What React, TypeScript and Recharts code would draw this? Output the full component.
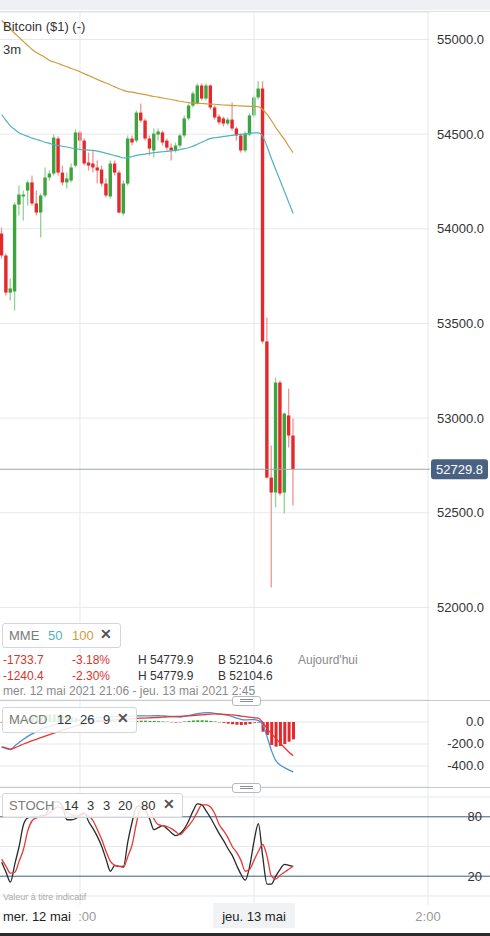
import React from 'react';
import { ComposedChart, Bar, Line, XAxis, YAxis, CartesianGrid, ReferenceLine, Cell } from 'recharts';

const FONT = '"Liberation Sans", Arial, Helvetica, sans-serif';

// 3-minute candles, mer. 12 mai 21:06 -> jeu. 13 mai 0:27
const times = [
  '21:06','21:09','21:12','21:15','21:18','21:21','21:24','21:27','21:30','21:33',
  '21:36','21:39','21:42','21:45','21:48','21:51','21:54','21:57','22:00','22:03',
  '22:06','22:09','22:12','22:15','22:18','22:21','22:24','22:27','22:30','22:33',
  '22:36','22:39','22:42','22:45','22:48','22:51','22:54','22:57','23:00','23:03',
  '23:06','23:09','23:12','23:15','23:18','23:21','23:24','23:27','23:30','23:33',
  '23:36','23:39','23:42','23:45','23:48','23:51','23:54','23:57','0:00','0:03',
  '0:06','0:09','0:12','0:15','0:18','0:21','0:24','0:27',
];

const opens = [
  53975,53859,53663,53669,54128,54171,54202,54245,54134,54086,
  54176,54271,54292,54477,54297,54245,54255,54334,54509,54466,
  54350,54345,54324,54313,54239,54171,54345,54297,54081,54239,
  54477,54466,54614,54572,54477,54414,54498,54509,54466,54429,
  54414,54440,54493,54583,54651,54662,54757,54688,54757,54641,
  54593,54583,54556,54577,54530,54493,54414,54498,54599,54694,
  54741,53405,52686,52607,53188,52607,53014,52908,
];
const closes = [
  53859,53663,53685,54128,54181,54181,54245,54134,54086,54176,
  54271,54292,54482,54297,54245,54266,54324,54509,54466,54345,
  54334,54324,54308,54239,54176,54345,54297,54086,54239,54477,
  54456,54614,54572,54477,54424,54503,54514,54456,54429,54414,
  54440,54493,54583,54651,54715,54757,54688,54757,54641,54588,
  54562,54556,54577,54530,54493,54414,54503,54599,54694,54741,
  53405,52686,52607,53188,52602,53024,52908,52729.8,
];
const highs = [
  54007,53870,53737,54139,54229,54202,54255,54282,54202,54186,
  54324,54308,54498,54488,54334,54297,54345,54525,54519,54477,
  54403,54414,54361,54334,54266,54361,54361,54308,54255,54493,
  54493,54625,54662,54583,54493,54530,54530,54519,54477,54451,
  54456,54503,54599,54662,54725,54768,54768,54768,54762,54651,
  54604,54593,54588,54667,54540,54503,54514,54609,54704,54779.9,
  54779.9,53531,52855,53214,53199,53030,53156,52998,
];
const lows = [
  53843,53648,53621,53568,54070,54044,54123,54123,54070,53954,
  54165,54255,54282,54282,54229,54213,54245,54324,54414,54334,
  54308,54297,54239,54223,54165,54160,54282,54081,54070,54229,
  54440,54456,54562,54466,54387,54377,54466,54440,54414,54361,
  54403,54429,54482,54572,54641,54657,54678,54678,54630,54577,
  54551,54540,54546,54519,54466,54403,54403,54488,54588,54683,
  53394,52681,52104.6,52528,52591,52496,52845,52538,
];
const mme50 = [
  54604,54572,54544,54525,54507,54497,54488,54479,54472,54465,
  54457,54451,54444,54440,54436,54432,54427,54423,54419,54417,
  54416,54414,54410,54405,54399,54393,54387,54381,54374,54376,
  54382,54388,54392,54395,54399,54402,54405,54407,54409,54412,
  54414,54419,54424,54428,54437,54447,54457,54468,54478,54481,
  54484,54488,54491,54494,54497,54499,54501,54504,54507,54507,
  54489,54435,54371,54313,54255,54197,54139,54081,
];
const mme100 = [
  55100,55079,55055,55032,55011,54989,54968,54947,54931,54918,
  54905,54889,54881,54873,54864,54856,54847,54839,54830,54819,
  54810,54799,54789,54779,54770,54760,54750,54740,54731,54725,
  54722,54717,54713,54709,54704,54699,54696,54691,54687,54683,
  54678,54674,54670,54667,54665,54663,54662,54660,54659,54658,
  54656,54654,54653,54651,54650,54649,54648,54647,54647,54645,
  54630,54604,54572,54535,54503,54472,54435,54403,
];
const macdLine = [
  -229,-242,-252,-219,-186,-157,-131,-108,-87,-65,
  -49,-38,-26,-15,-6,0,7,13,20,24,
  29,33,37,41,43,45,47,50,51,52,
  54,55,55,56,56,57,57,55,53,50,
  48,45,53,60,67,75,81,86,85,79,
  74,68,61,49,36,24,19,21,22,13,
  -20,-133,-258,-350,-390,-415,-435,-454,
];
const signalLine = [
  -227,-236,-246,-235,-218,-200,-185,-170,-157,-143,
  -128,-114,-101,-87,-74,-61,-48,-36,-25,-17,
  -10,-2,5,8,12,16,20,24,26,28,
  30,33,35,36,38,40,41,44,46,48,
  50,52,54,56,59,62,65,68,71,73,
  71,69,67,64,60,54,49,44,38,35,
  -5,-60,-104,-148,-191,-232,-273,-307,
];
const histogram = [
  -5,-6,-3,5,15,25,35,45,55,60,
  65,68,70,65,58,50,42,35,30,25,
  22,20,18,15,12,10,8,8,6,6,
  8,10,12,12,10,10,8,5,3,-3,
  -5,-3,5,10,14,16,16,14,10,5,
  -3,-8,-15,-20,-25,-28,-25,-18,-10,-5,
  -88,-118,-209,-224,-218,-200,-179,-158,
];
const stochK = [
  34,24,14,32,50,72,79,80,80,81,
  82,90,95,95,90,77,77,78,82,84,
  75,68,60,50,37,25,31,30,30,55,
  75,90,91,87,78,67,69,71,68,64,
  61,63,68,76,86,93,92,86,79,71,
  63,56,48,41,31,22,16,30,55,73,
  40,12,12,20,27,32,31,30,
];
const stochD = [
  37,30,23,24,35,47,66,76,79,80,
  81,84,88,90,88,84,82,81,81,83,
  81,76,67,57,45,35,31,30,29,40,
  52,74,90,91,89,78,72,71,70,68,
  65,62,66,71,77,85,92,92,90,83,
  72,66,59,50,44,36,25,27,36,45,
  52,40,20,17,21,24,27,30,
];

const priceTicks = [52000, 52500, 53000, 53500, 54000, 54500, 55000];
const macdTicks = [0, -200, -400];
const stochLevels = [20, 80];
const stochGrid = [0, 50, 100];
const timeTicks = [-120, 0, 120];
const timeTickLabels: Record<number, string> = { [-120]: '22:00', 0: 'jeu. 13 mai', 120: '2:00' };

const toMinutes = (s: string) => {
  const [h, m] = s.split(':').map(Number);
  const v = h * 60 + m;
  return h >= 12 ? v - 1440 : v;
};

const data = times.map((tm, i) => ({
  t: toMinutes(tm),
  o: opens[i], h: highs[i], l: lows[i], c: closes[i],
  ma50: mme50[i], ma100: mme100[i],
  macd: macdLine[i], signal: signalLine[i], hist: histogram[i],
  k: stochK[i], d: stochD[i],
}));

const lastPrice = closes[closes.length - 1];

const X_DOMAIN: [number, number] = [-175.17, 121.38];
const X_DOMAIN_FULL: [number, number] = [-175.17, 162.76];
const GRID = '#e6e8eb';

const Candle = (props: any) => {
  const { x, y, width, height, payload } = props;
  if (!payload || x == null) return null;
  const top = Math.min(y, y + height);
  const bottom = Math.max(y, y + height);
  const { o, c, h, l } = payload;
  const k = (bottom - top) / (h - l || 1);
  const yo = top + (h - o) * k;
  const yc = top + (h - c) * k;
  const up = c >= o;
  const cx = x + width / 2;
  const bt = Math.min(yo, yc);
  const bh = Math.max(1, Math.abs(yo - yc));
  return (
    <g>
      <line x1={cx} x2={cx} y1={top} y2={bottom} stroke={up ? '#93d293' : '#f09494'} strokeWidth={1.3} />
      <rect x={cx - 1.7} y={bt} width={3.4} height={bh} fill={up ? '#3ea53e' : '#e5282b'} />
    </g>
  );
};

const RightTick = (props: any) => {
  const { x, y, payload } = props;
  return (
    <text x={x + 54} y={y} dy={4.5} textAnchor="end" fill="#333" fontSize={13} fontFamily={FONT}>
      {Number(payload.value).toFixed(1)}
    </text>
  );
};

const PriceTag = (props: any) => {
  const vb = props.viewBox || {};
  const x = vb.x + vb.width + 1;
  const y = vb.y;
  return (
    <g>
      <rect x={x} y={y - 10} width={57} height={20} rx={3} fill="#4a6282" />
      <text x={x + 28.5} y={y + 4.5} textAnchor="middle" fill="#fff" fontSize={13} fontFamily={FONT}>
        {lastPrice.toFixed(1)}
      </text>
    </g>
  );
};

const TimeTick = (props: any) => {
  const { x, y, payload } = props;
  const v = payload.value;
  const label = timeTickLabels[v];
  if (v === 0) {
    return (
      <g>
        <rect x={x - 41} y={y - 2} width={82} height={25} fill="#f1f2f4" />
        <text x={x} y={y + 16} textAnchor="middle" fill="#222" fontSize={13} fontFamily={FONT}>{label}</text>
      </g>
    );
  }
  return (
    <text x={x} y={y + 16} textAnchor="middle" fill="#9a9a9a" fontSize={13} fontFamily={FONT}>{label}</text>
  );
};

const Handle = ({ top }: { top: number }) => (
  <div style={{ position: 'absolute', left: 232, top, width: 27, height: 8, border: '1px solid #b5b9bf', borderRadius: 3, background: '#fff' }}>
    <div style={{ margin: '2px 7px 0', borderTop: '1px solid #8a8f96', borderBottom: '1px solid #8a8f96', height: 1 }} />
  </div>
);

const abs = (left: number, top: number, extra: React.CSSProperties = {}): React.CSSProperties => ({
  position: 'absolute', left, top, whiteSpace: 'nowrap', ...extra,
});

const box: React.CSSProperties = {
  position: 'absolute', border: '1px solid #d3d5d8', borderRadius: 3, background: 'rgba(255,255,255,0.85)',
  fontSize: 13, lineHeight: '15px',
};

export default function App() {
  return (
    <div style={{ position: 'absolute', left: 0, top: 0, width: 490, height: 936, background: '#fff', fontFamily: FONT, overflow: 'hidden' }}>
      {/* top band */}
      <div style={{ position: 'absolute', left: 0, top: 0, width: 490, height: 10, background: '#eef0f3' }} />
      <div style={{ position: 'absolute', left: 0, top: 11, width: 490, height: 1, background: '#dcdfe3' }} />

      {/* price chart */}
      <div style={{ position: 'absolute', left: 0, top: 12 }}>
        <ComposedChart width={490} height={688} data={data} margin={{ top: 0, right: 0, bottom: 0, left: 0 }}>
          <CartesianGrid vertical={false} stroke={GRID} />
          <XAxis type="number" dataKey="t" domain={X_DOMAIN} hide allowDataOverflow />
          <YAxis orientation="right" domain={[51510.9, 55145.3]} ticks={priceTicks} width={60} axisLine={false}
            tickLine={false} tickSize={0} tickMargin={0} tick={<RightTick />} allowDataOverflow interval={0} />
          {timeTicks.map((t) => <ReferenceLine key={t} x={t} stroke={GRID} />)}
          <Bar dataKey={(d: any) => [d.l, d.h]} barSize={4} shape={<Candle />} isAnimationActive={false} />
          <Line type="monotone" dataKey="ma100" stroke="#d39a3c" strokeWidth={1.2} dot={false} activeDot={false} isAnimationActive={false} />
          <Line type="monotone" dataKey="ma50" stroke="#4fb3bd" strokeWidth={1.2} dot={false} activeDot={false} isAnimationActive={false} />
          <ReferenceLine y={lastPrice} stroke="#9ea7b3" label={<PriceTag />} />
        </ComposedChart>
      </div>

      <div style={abs(3, 19, { fontSize: 13, lineHeight: '15px', color: '#333' })}>Bitcoin ($1) (-)</div>
      <div style={abs(3, 42, { fontSize: 13, lineHeight: '15px', color: '#333' })}>3m</div>

      {/* MME legend and info */}
      <div style={{ ...box, left: 2, top: 623, width: 117, height: 23 }}>
        <span style={abs(6, 4, { color: '#7a7a7a' })}>MME</span>
        <span style={abs(45, 4, { color: '#4fb3bd' })}>50</span>
        <span style={abs(69, 4, { color: '#d39a3c' })}>100</span>
        <span style={abs(97, 3, { color: '#555', fontWeight: 'bold', fontSize: 14 })}>✕</span>
      </div>
      {[
        { top: 653, v: '-1733.7', p: '-3.18%', extra: "Aujourd'hui" },
        { top: 669, v: '-1240.4', p: '-2.30%', extra: '' },
      ].map((r) => (
        <React.Fragment key={r.top}>
          <div style={abs(3, r.top, { fontSize: 12, color: '#d6352f' })}>{r.v}</div>
          <div style={abs(72, r.top, { fontSize: 12, color: '#d6352f' })}>{r.p}</div>
          <div style={abs(138, r.top, { fontSize: 12, color: '#333' })}>H 54779.9</div>
          <div style={abs(218, r.top, { fontSize: 12, color: '#333' })}>B 52104.6</div>
          {r.extra && <div style={abs(298, r.top, { fontSize: 12, color: '#8a8a8a' })}>{r.extra}</div>}
        </React.Fragment>
      ))}
      <div style={abs(3, 684, { fontSize: 12, color: '#8a8a8a' })}>mer. 12 mai 2021 21:06 - jeu. 13 mai 2021 2:45</div>

      {/* MACD chart */}
      <div style={{ position: 'absolute', left: 0, top: 700 }}>
        <ComposedChart width={490} height={87} data={data} margin={{ top: 0, right: 0, bottom: 0, left: 0 }}>
          <CartesianGrid vertical={false} stroke={GRID} />
          <XAxis type="number" dataKey="t" domain={X_DOMAIN} hide allowDataOverflow />
          <YAxis orientation="right" domain={[-591, 200]} ticks={macdTicks} width={60} axisLine={false}
            tickLine={false} tickSize={0} tickMargin={0} tick={<RightTick />} allowDataOverflow interval={0} />
          {timeTicks.map((t) => <ReferenceLine key={t} x={t} stroke={GRID} />)}
          <Bar dataKey="hist" barSize={3} isAnimationActive={false}>
            {data.map((d, i) => <Cell key={i} fill={d.hist >= 0 ? '#3ea53e' : '#e5282b'} />)}
          </Bar>
          <Line type="monotone" dataKey="macd" stroke="#4a90dd" strokeWidth={1.3} dot={false} activeDot={false} isAnimationActive={false} />
          <Line type="monotone" dataKey="signal" stroke="#e33a33" strokeWidth={1.3} dot={false} activeDot={false} isAnimationActive={false} />
        </ComposedChart>
      </div>
      <div style={{ position: 'absolute', left: 0, top: 700, width: 490, height: 1, background: '#c6c9cd' }} />
      <div style={{ ...box, left: 2, top: 707, width: 133, height: 24 }}>
        <span style={abs(6, 4, { color: '#7a7a7a' })}>MACD</span>
        <span style={abs(54, 4, { color: '#333' })}>12</span>
        <span style={abs(77, 4, { color: '#333' })}>26</span>
        <span style={abs(100, 4, { color: '#333' })}>9</span>
        <span style={abs(114, 3, { color: '#555', fontWeight: 'bold', fontSize: 14 })}>✕</span>
      </div>

      {/* STOCH chart + time axis */}
      <div style={{ position: 'absolute', left: 0, top: 787 }}>
        <ComposedChart width={490} height={149} data={data} margin={{ top: 0, right: 0, bottom: 0, left: 0 }}>
          <XAxis type="number" dataKey="t" domain={X_DOMAIN_FULL} ticks={timeTicks} height={31} axisLine={false}
            tickLine={false} tickSize={0} tickMargin={0} tick={<TimeTick />} allowDataOverflow interval={0} />
          <YAxis hide domain={[-9.1, 110.1]} allowDataOverflow />
          {stochGrid.map((v) => <ReferenceLine key={'g' + v} y={v} stroke={GRID} />)}
          {timeTicks.map((t) => <ReferenceLine key={t} x={t} stroke={GRID} />)}
          {stochLevels.map((v) => (
            <ReferenceLine key={'l' + v} y={v} stroke="#3c5d83" strokeWidth={1}
              label={{ value: String(v), position: 'insideRight', offset: 8, fill: '#333', fontSize: 13, fontFamily: FONT }} />
          ))}
          <Line type="monotone" dataKey="k" stroke="#2a2a2a" strokeWidth={1.3} dot={false} activeDot={false} isAnimationActive={false} />
          <Line type="monotone" dataKey="d" stroke="#e53935" strokeWidth={1.3} dot={false} activeDot={false} isAnimationActive={false} />
        </ComposedChart>
      </div>
      <div style={{ position: 'absolute', left: 0, top: 787, width: 490, height: 1, background: '#c6c9cd' }} />
      <div style={{ ...box, left: 2, top: 793, width: 179, height: 23 }}>
        <span style={abs(6, 4, { color: '#7a7a7a' })}>STOCH</span>
        <span style={abs(61, 4, { color: '#333' })}>14</span>
        <span style={abs(84, 4, { color: '#333' })}>3</span>
        <span style={abs(100, 4, { color: '#333' })}>3</span>
        <span style={abs(115, 4, { color: '#333' })}>20</span>
        <span style={abs(138, 4, { color: '#333' })}>80</span>
        <span style={abs(160, 3, { color: '#555', fontWeight: 'bold', fontSize: 14 })}>✕</span>
      </div>
      <div style={abs(3, 892, { fontSize: 9, color: '#aaa' })}>Valeur à titre indicatif</div>
      <div style={abs(0, 905, { width: 78, height: 25, background: '#fff', fontSize: 13, color: '#222', lineHeight: '15px' })}>
        <span style={{ position: 'absolute', left: 3, top: 4 }}>mer. 12 mai</span>
      </div>
      <div style={{ position: 'absolute', left: 0, top: 933, width: 490, height: 3, background: '#2b2b2b' }} />

      <Handle top={696} />
      <Handle top={783} />
    </div>
  );
}
